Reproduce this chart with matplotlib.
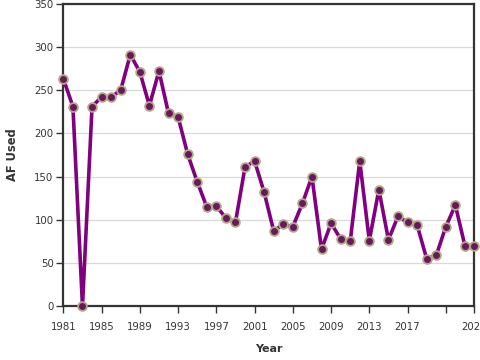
import numpy as np
import matplotlib
matplotlib.use('Agg')
import matplotlib.pyplot as plt

years = list(range(1981, 2025))
af_used = [263, 231, 0, 231, 242, 242, 250, 291, 271, 232, 272,
           223, 219, 176, 144, 115, 116, 102, 97, 161, 168, 132,
           87, 95, 92, 119, 150, 66, 96, 78, 75, 168, 76,
           135, 77, 104, 97, 94, 55, 59, 92, 117, 70, 70]

xticks = list(range(1981, 2022, 4)) + [2024]
xticklabels = [str(t) for t in xticks]
xticklabels[-2] = ''  # 2021 label hidden in original (overlap)

plt.rcParams['font.family'] = 'DejaVu Sans'

fig = plt.figure(figsize=(4.8, 3.6), dpi=100)
ax = fig.add_axes([0.132, 0.149, 0.8565, 0.841])

ax.plot(years, af_used, color='#800080', lw=2.6, zorder=3, clip_on=False,
        marker='o', ms=6.3, mfc='#661a5a', mec='#b5a58a', mew=1.3)

ax.set_xlim(1981, 2024)
ax.set_ylim(0, 350)
ax.set_yticks(np.arange(0, 351, 50))
ax.set_xticks(xticks)
ax.set_xticklabels(xticklabels)

ax.grid(axis='y', color='#d9d9d9', lw=0.9)
ax.set_axisbelow(True)

for s in ax.spines.values():
    s.set_color('#333333')
    s.set_linewidth(1.6)

ax.tick_params(axis='both', colors='#333333', labelsize=7.3, length=5, width=1)
ax.tick_params(axis='x', pad=6)
ax.tick_params(axis='y', pad=2)

ax.set_xlabel('Year', fontsize=8, fontweight='bold', color='#333333', labelpad=9)
ax.set_ylabel('AF Used', fontsize=8.3, fontweight='bold', color='#333333', labelpad=11)

fig.savefig('out.png', dpi=100)
